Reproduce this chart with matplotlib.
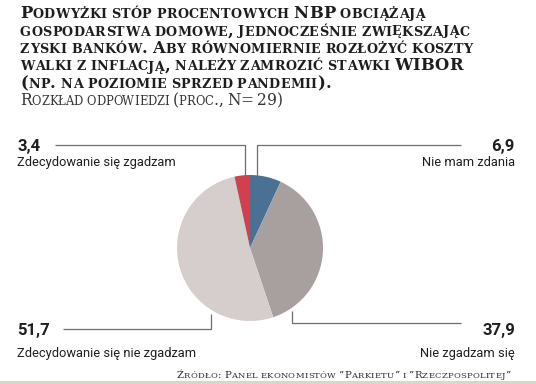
import matplotlib
matplotlib.use("Agg")
import matplotlib.pyplot as plt

# data
labels = ["Nie mam zdania", "Nie zgadzam się", "Zdecydowanie się nie zgadzam", "Zdecydowanie się zgadzam"]
values = [6.9, 37.9, 51.7, 3.4]
value_text = ["6,9", "37,9", "51,7", "3,4"]
colors = ["#4a7094", "#a8a09e", "#d6cecc", "#d0404e"]

title_lines = [
    "Podwyżki stóp procentowych NBP obciążają",
    "gospodarstwa domowe, jednocześnie zwiększając",
    "zyski banków. Aby równomiernie rozłożyć koszty",
    "walki z inflacją, należy zamrozić stawki WIBOR",
    "(np. na poziomie sprzed pandemii).",
]
subtitle = "Rozkład odpowiedzi (proc., N= 29)"
source = "Źródło: Panel ekonomistów \u201dParkietu\u201d i \u201dRzeczpospolitej\u201d"

W, H = 536, 384
fig = plt.figure(figsize=(W / 100, H / 100), dpi=100)
fig.patch.set_facecolor("white")

ov = fig.add_axes([0, 0, 1, 1])
ov.set_xlim(0, W)
ov.set_ylim(H, 0)
ov.axis("off")
renderer = fig.canvas.get_renderer()

SERIF = "DejaVu Serif"
SANS = "Roboto"


def text_width(s, size, weight, family):
    t = ov.text(0, 0, s, fontsize=size, fontweight=weight, family=family)
    w = t.get_window_extent(renderer).width
    t.remove()
    return w


def smallcaps(x, y, s, big, small, weight="bold", color="#222222", ha="left",
              family=SERIF, track=0.0):
    # split into runs: uppercase/digits/punct -> big, lowercase -> small (uppercased)
    runs = []
    for ch in s:
        if ch == " ":
            kind = "space"
        elif ch.islower():
            kind = "small"
        else:
            kind = "big"
        if runs and runs[-1][0] == kind:
            runs[-1][1] += ch
        else:
            runs.append([kind, ch])
    sp = text_width("x x", small, weight, family) - text_width("xx", small, weight, family)
    pieces = []
    cx = 0
    for kind, chunk in runs:
        if kind == "space":
            cx += sp * len(chunk)
            continue
        size = big if kind == "big" else small
        txt = chunk.upper() if kind == "small" else chunk
        for c in txt:
            t = ov.text(cx, y, c, fontsize=size, fontweight=weight, family=family,
                        color=color, va="baseline", ha="left")
            w = t.get_window_extent(renderer).width
            pieces.append((t, cx))
            cx += w + track
    off = x if ha == "left" else x - cx
    for t, px in pieces:
        t.set_x(px + off)


# title
baselines = [18, 35.5, 53, 70.5, 88]
for line, b in zip(title_lines, baselines):
    smallcaps(20, b, line, 11.8, 9.2, weight="bold", color="#1e1e1e", track=0.3)
smallcaps(20, 105, subtitle, 11.2, 8.3, weight="normal", color="#333333", track=0.0)

# source + bottom bar
smallcaps(511, 378, source, 7.3, 6.0, weight="normal", color="#2a2a2a", ha="right", track=0.3)
ov.add_patch(plt.Rectangle((0, 380.5), W, 4, color="#d9d6cc", lw=0))

# pie
cx, cy, r = 250, 248, 73
pax = fig.add_axes([(cx - r) / W, (H - cy - r) / H, 2 * r / W, 2 * r / H])
pax.pie(values, colors=colors, startangle=90, counterclock=False,
        wedgeprops=dict(linewidth=0))
pax.set_xlim(-1, 1)
pax.set_ylim(-1, 1)
pax.set_aspect("equal")

# labels with leader lines (pixel layout)
layout = [
    # value_x, ha, value_y, label_y, leader path
    (515, "right", 151, 166, [(461, 145), (257, 145), (257, 177)]),
    (515, "right", 335, 357, [(461, 323), (292, 323), (292, 311)]),
    (17, "left", 335, 357, [(63, 329), (211, 329), (211, 314)]),
    (17, "left", 151, 166, [(55, 145), (245, 145), (245, 177)]),
]
for lab, vt, (vx, ha, vy, ly, path) in zip(labels, value_text, layout):
    ov.text(vx, vy, vt, fontsize=12, fontweight="bold", family=SANS,
            color="#1e1e1e", ha=ha, va="baseline")
    ov.text(vx, ly, lab, fontsize=9.3, family=SANS, color="#1e1e1e",
            ha=ha, va="baseline")
    xs, ys = zip(*path)
    ov.plot(xs, ys, color="#6e6e6e", lw=0.9, solid_capstyle="butt")

fig.savefig("out.png", dpi=100)
